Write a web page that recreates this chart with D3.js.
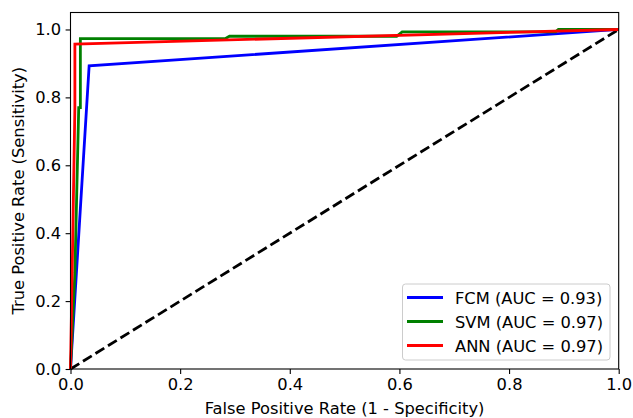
<!DOCTYPE html>
<html>
<head>
<script src="https://d3js.org/d3.v7.min.js"></script>
<style>
  body { margin: 0; background: #fff; }
  text { font-family: "DejaVu Sans", sans-serif; }
</style>
</head>
<body>
<svg id="chart" width="633" height="418"></svg>
<script>
// ROC points
const fcmFpr = [0, 0.034, 1];
const fcmTpr = [0, 0.893, 1];
const svmFpr = [0, 0.008, 0.015, 0.018, 0.018, 0.282, 0.29, 0.595, 0.605, 0.885, 0.89, 1];
const svmTpr = [0, 0.283, 0.77, 0.77, 0.973, 0.973, 0.98, 0.98, 0.993, 0.993, 1, 1];
const annFpr = [0, 0.003, 0.008, 0.008, 1];
const annTpr = [0, 0.28, 0.77, 0.957, 1];
const seriesNames = ['FCM (AUC = 0.93)', 'SVM (AUC = 0.97)', 'ANN (AUC = 0.97)'];
const seriesColors = ['#0000ff', '#008000', '#ff0000'];
const ticks = [0, 0.2, 0.4, 0.6, 0.8, 1.0];

const svg = d3.select('#chart');
const mLeft = 70.5, mRight = 618.7, mTop = 12.5, mBottom = 369;
const fs = 16.3;

const x = d3.scaleLinear().domain([0, 1]).range([mLeft, mRight]);
const y = d3.scaleLinear().domain([0, 1.05]).range([mBottom, mTop]);

const line = d3.line().x(d => x(d[0])).y(d => y(d[1]));

// diagonal reference
svg.append('path')
  .attr('d', line([[0, 0], [1, 1]]))
  .attr('fill', 'none')
  .attr('stroke', '#000')
  .attr('stroke-width', 2.8)
  .attr('stroke-dasharray', '10.3,4.4');

const series = [
  d3.zip(fcmFpr, fcmTpr),
  d3.zip(svmFpr, svmTpr),
  d3.zip(annFpr, annTpr)
];

series.forEach((pts, i) => {
  svg.append('path')
    .attr('d', line(pts))
    .attr('fill', 'none')
    .attr('stroke', seriesColors[i])
    .attr('stroke-width', 2.8)
    .attr('stroke-linejoin', 'miter');
});

// axes
const xAxis = svg.append('g').attr('transform', `translate(0,${mBottom})`)
  .call(d3.axisBottom(x).tickValues(ticks).tickFormat(d3.format('.1f')).tickSize(4.9).tickPadding(4.5));
const yAxis = svg.append('g').attr('transform', `translate(${mLeft},0)`)
  .call(d3.axisLeft(y).tickValues(ticks).tickFormat(d3.format('.1f')).tickSize(4.9).tickPadding(4.5));
[xAxis, yAxis].forEach(g => {
  g.select('.domain').remove();
  g.selectAll('line').attr('stroke', '#000').attr('stroke-width', 1.1);
  g.selectAll('text').attr('font-size', fs).attr('fill', '#000')
    .style('font-family', '"DejaVu Sans", sans-serif');
});

// frame
svg.append('rect')
  .attr('x', mLeft).attr('y', mTop)
  .attr('width', mRight - mLeft).attr('height', mBottom - mTop)
  .attr('fill', 'none').attr('stroke', '#000').attr('stroke-width', 1.1);

// axis labels
svg.append('text')
  .attr('x', (mLeft + mRight) / 2).attr('y', 413.5)
  .attr('text-anchor', 'middle').attr('font-size', fs)
  .text('False Positive Rate (1 - Specificity)');
svg.append('text')
  .attr('transform', `translate(23.5,${(mTop + mBottom) / 2}) rotate(-90)`)
  .attr('text-anchor', 'middle').attr('font-size', fs)
  .text('True Positive Rate (Sensitivity)');

// legend
const lg = svg.append('g');
lg.append('rect')
  .attr('x', 402.5).attr('y', 284).attr('width', 207.5).attr('height', 76)
  .attr('rx', 3).attr('fill', '#fff').attr('fill-opacity', 0.8)
  .attr('stroke', '#cccccc').attr('stroke-width', 1);
seriesNames.forEach((name, i) => {
  const yy = 297.5 + i * 24;
  lg.append('line')
    .attr('x1', 407).attr('x2', 443).attr('y1', yy).attr('y2', yy)
    .attr('stroke', seriesColors[i]).attr('stroke-width', 2.8);
  lg.append('text')
    .attr('x', 455).attr('y', yy + 6).attr('font-size', fs)
    .text(name);
});
</script>
</body>
</html>
